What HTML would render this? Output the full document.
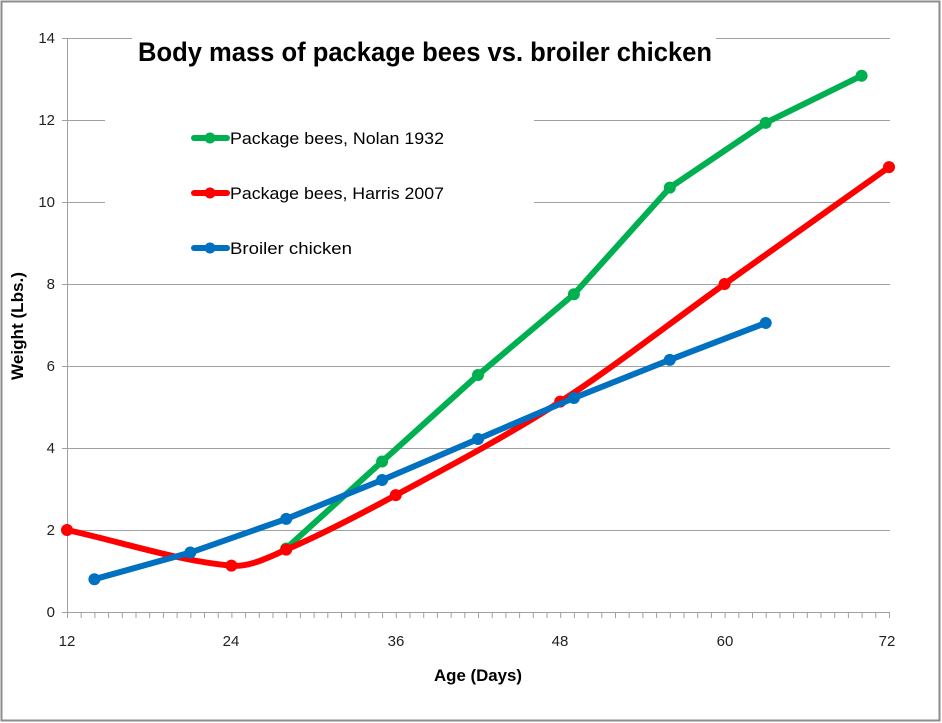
<!DOCTYPE html>
<html><head><meta charset="utf-8"><style>
html,body{margin:0;padding:0;background:#fff}
svg{display:block}
text{font-family:"Liberation Sans",sans-serif}
</style></head><body>
<svg id="s" width="942" height="723" xmlns="http://www.w3.org/2000/svg">
<rect x="1.5" y="1.5" width="938" height="719" fill="#fff" stroke="#8c8c8c" stroke-width="2"/>
<g id="grid" stroke="#a0a0a0" stroke-width="1"></g>
<g id="ticks" stroke="#a0a0a0" stroke-width="1"></g>
<rect x="132" y="28" width="584" height="50" fill="#fff"/>
<rect x="105" y="100" width="429" height="170" fill="#fff"/>
<g id="series"></g>
<g font-size="15" fill="#222" text-anchor="end">
<text x="55" y="617">0</text><text x="55" y="535">2</text><text x="55" y="453">4</text><text x="55" y="371">6</text><text x="55" y="289">8</text><text x="55" y="207">10</text><text x="55" y="125">12</text><text x="55" y="43">14</text>
</g>
<g font-size="15" fill="#222" text-anchor="middle">
<text x="67" y="646">12</text><text x="231" y="646">24</text><text x="396" y="646">36</text><text x="560" y="646">48</text><text x="725" y="646">60</text><text x="887" y="646">72</text>
</g>
<text x="478" y="681" font-size="17" font-weight="bold" text-anchor="middle" textLength="88" lengthAdjust="spacingAndGlyphs">Age (Days)</text>
<text transform="translate(23,326) rotate(-90)" font-size="17" font-weight="bold" text-anchor="middle" textLength="108" lengthAdjust="spacingAndGlyphs">Weight (Lbs.)</text>
<text x="138" y="61" font-size="27" font-weight="bold" textLength="574" lengthAdjust="spacingAndGlyphs">Body mass of package bees vs. broiler chicken</text>
<g stroke-width="6" stroke-linecap="round">
<line x1="194" y1="138" x2="227" y2="138" stroke="#00b050"/><circle cx="210" cy="138" r="5.5" fill="#00b050"/>
<line x1="194" y1="193" x2="227" y2="193" stroke="#ff0000"/><circle cx="210" cy="193" r="5.5" fill="#ff0000"/>
<line x1="194" y1="248" x2="227" y2="248" stroke="#0070c0"/><circle cx="210" cy="248" r="5.5" fill="#0070c0"/>
</g>
<g font-size="17" fill="#000">
<text x="230" y="144" textLength="214" lengthAdjust="spacingAndGlyphs">Package bees, Nolan 1932</text>
<text x="230" y="199" textLength="214" lengthAdjust="spacingAndGlyphs">Package bees, Harris 2007</text>
<text x="230" y="254" textLength="122" lengthAdjust="spacingAndGlyphs">Broiler chicken</text>
</g>
</svg>
<script>
var NS="http://www.w3.org/2000/svg";
function el(p,t,a){var e=document.createElementNS(NS,t);for(var k in a)e.setAttribute(k,a[k]);p.appendChild(e);return e;}
var X=function(d){return 67+(d-12)*13.7},Y=function(v){return 612-41*v};
var g=document.getElementById('grid'),tk=document.getElementById('ticks');
for(var v=1;v<=7;v++){el(g,'line',{x1:62,x2:890,y1:Y(v*2)+.5,y2:Y(v*2)+.5});}
el(tk,'line',{x1:62,x2:890,y1:612.5,y2:612.5});
el(tk,'line',{x1:67.5,x2:67.5,y1:38,y2:617});
for(var d=12;d<=72;d++){el(tk,'line',{x1:X(d)+.5,x2:X(d)+.5,y1:612,y2:618});}
var s=document.getElementById('series');
function ser(pts,col,smooth){
 var p=pts.map(function(q){return [X(q[0]),Y(q[1])]});
 var dd="M"+p[0][0]+","+p[0][1];
 if(smooth){
  var n=p.length,m=[];
  for(var i=0;i<n;i++){var a=p[Math.max(i-1,0)],b=p[Math.min(i+1,n-1)];m.push((b[1]-a[1])/(b[0]-a[0]));}
  for(var i=0;i<n-1;i++){var p1=p[i],p2=p[i+1],h=(p2[0]-p1[0])/3;
   dd+=" C"+(p1[0]+h)+","+(p1[1]+m[i]*h)+" "+(p2[0]-h)+","+(p2[1]-m[i+1]*h)+" "+p2;}
 }
 else{for(var i=1;i<p.length;i++)dd+=" L"+p[i];}
 el(s,'path',{d:dd,fill:'none',stroke:col,'stroke-width':6,'stroke-linejoin':'round','stroke-linecap':'round'});
 p.forEach(function(q){el(s,'circle',{cx:q[0],cy:q[1],r:6,fill:col});});
}
ser([[28,1.55],[35,3.67],[42,5.78],[49,7.75],[56,10.35],[63,11.93],[70,13.08]],'#00b050',false);
ser([[12,2.0],[24,1.13],[28,1.52],[36,2.85],[48,5.13],[60,8.0],[72,10.85]],'#ff0000',true);
ser([[14,0.8],[21,1.45],[28,2.27],[35,3.22],[42,4.22],[49,5.22],[56,6.15],[63,7.05]],'#0070c0',false);
</script>
</body></html>
